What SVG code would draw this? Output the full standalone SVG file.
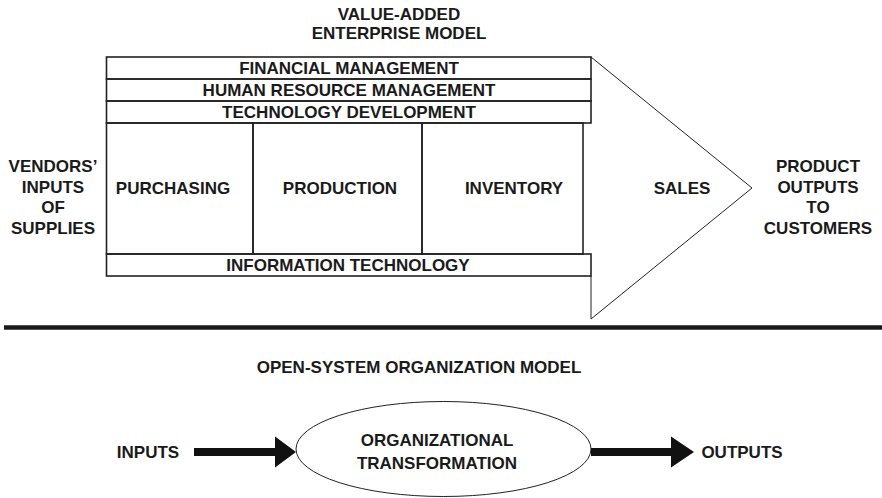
<svg xmlns="http://www.w3.org/2000/svg" width="882" height="498" viewBox="0 0 882 498">
<style>
text{font-family:"Liberation Sans",Arial,Helvetica,sans-serif;font-weight:bold;fill:#1a1a1a;text-anchor:middle;font-size:17px}
.box{fill:none;stroke:#222;stroke-width:1.6}
.thin{fill:none;stroke:#222;stroke-width:1}
</style>
<rect width="882" height="498" fill="#fff"/>
<g id="title">
<text x="399" y="20">VALUE-ADDED</text>
<text x="399" y="39">ENTERPRISE MODEL</text>
</g>
<g id="sales">
<polyline class="thin" points="591,57 752,188 591,319 591,276"/>
<text x="682" y="194">SALES</text>
</g>
<g id="financial">
<rect class="box" x="106.5" y="57" width="484.5" height="22"/>
<text x="349" y="74">FINANCIAL MANAGEMENT</text>
</g>
<g id="hr">
<rect class="box" x="106.5" y="79" width="484.5" height="22"/>
<text x="349" y="96">HUMAN RESOURCE MANAGEMENT</text>
</g>
<g id="techdev">
<rect class="box" x="106.5" y="101" width="484.5" height="22"/>
<text x="349" y="118">TECHNOLOGY DEVELOPMENT</text>
</g>
<g id="purchasing">
<rect class="box" x="106.5" y="123" width="146.5" height="131"/>
<text x="173" y="194">PURCHASING</text>
</g>
<g id="production">
<rect class="box" x="253" y="123" width="169" height="131"/>
<text x="340" y="194">PRODUCTION</text>
</g>
<g id="inventory">
<rect class="box" x="422" y="123" width="161" height="131"/>
<text x="514" y="194">INVENTORY</text>
</g>
<g id="infotech">
<rect class="box" x="106.5" y="254" width="484.5" height="22"/>
<text x="348" y="271">INFORMATION TECHNOLOGY</text>
</g>
<g id="vendors">
<text x="53" y="172">VENDORS’</text>
<text x="53" y="192.5">INPUTS</text>
<text x="53" y="213">OF</text>
<text x="53" y="233.5">SUPPLIES</text>
</g>
<g id="customers">
<text x="818" y="172">PRODUCT</text>
<text x="818" y="192.5">OUTPUTS</text>
<text x="818" y="213">TO</text>
<text x="818" y="233.5">CUSTOMERS</text>
</g>
<line x1="4" y1="327.5" x2="882" y2="327.5" stroke="#1a1a1a" stroke-width="4.5"/>
<g id="open-title">
<text x="419" y="372.5">OPEN-SYSTEM ORGANIZATION MODEL</text>
</g>
<g id="inputs">
<text x="148" y="457.5">INPUTS</text>
</g>
<g id="transformation">
<ellipse class="thin" cx="443.5" cy="449" rx="147.5" ry="47.5"/>
<text x="437" y="445.5">ORGANIZATIONAL</text>
<text x="437" y="468.5">TRANSFORMATION</text>
</g>
<g id="outputs">
<text x="742" y="457.5">OUTPUTS</text>
</g>
<g id="connectors" fill="#111">
<polygon points="194,448 275,448 275,436.5 296,452 275,467.5 275,456 194,456"/>
<polygon points="591,448 671,448 671,436.5 694,452 671,467.5 671,456 591,456"/>
</g>
</svg>
